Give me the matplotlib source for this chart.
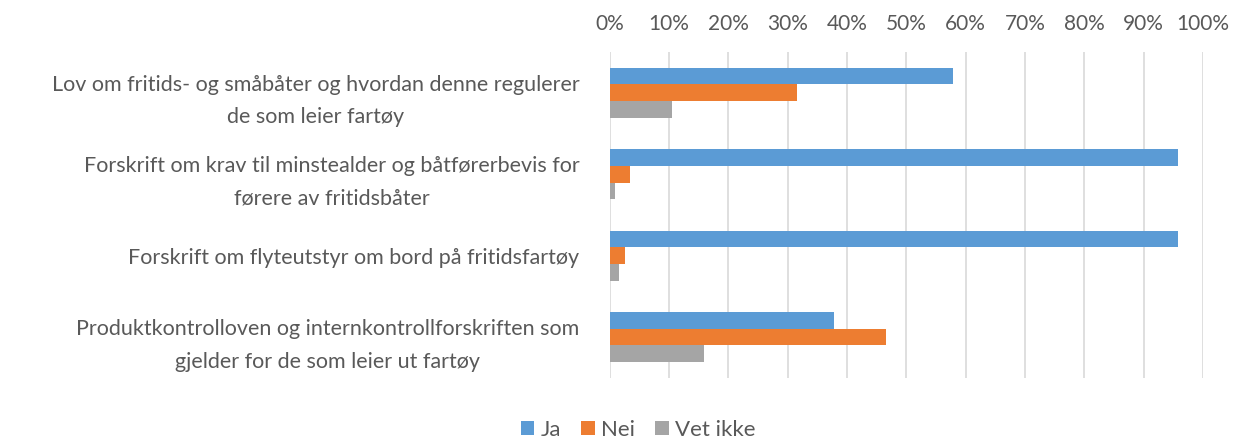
import matplotlib.pyplot as plt
import numpy as np

plt.rcParams['font.family'] = ['Lato', 'DejaVu Sans']

categories = [
    "Lov om fritids- og småbåter og hvordan denne regulerer\nde som leier fartøy",
    "Forskrift om krav til minstealder og båtførerbevis for\nførere av fritidsbåter",
    "Forskrift om flyteutstyr om bord på fritidsfartøy",
    "Produktkontrolloven og internkontrollforskriften som\ngjelder for de som leier ut fartøy",
]
ja = [57.9, 95.8, 95.8, 37.8]
nei = [31.6, 3.4, 2.6, 46.5]
vet_ikke = [10.5, 0.8, 1.6, 15.8]
series_names = ["Ja", "Nei", "Vet ikke"]
colors = ["#5B9BD5", "#ED7D31", "#A5A5A5"]
ticks = list(range(0, 101, 10))

text_col = "#595959"

fig = plt.figure(figsize=(12.37, 4.44), dpi=100)
ax = fig.add_axes([0.493, 0.149, 0.4795, 0.734])

y = np.arange(len(categories))
h = 0.205
for i, (vals, name, c) in enumerate(zip([ja, nei, vet_ikke], series_names, colors)):
    ax.barh(y + (i - 1) * h, vals, height=h, color=c, label=name, zorder=3)

ax.set_xlim(0, 100)
ax.set_ylim(len(categories) - 0.5, -0.5)
ax.set_xticks(ticks)
ax.set_xticklabels([f"{t}%" for t in ticks])
ax.xaxis.tick_top()
ax.set_yticks(y)
ax.set_yticklabels(categories, linespacing=1.8)
ax.tick_params(axis="y", length=0, pad=22, labelsize=15.5, labelcolor=text_col)
for lab in ax.get_yticklabels():
    lab.set_horizontalalignment("right")
    lab.set_multialignment("center")
ax.tick_params(axis="x", length=0, pad=13, labelsize=15, labelcolor=text_col)
ax.grid(axis="x", color="#D9D9D9", linewidth=1.2, zorder=0)
for s in ax.spines.values():
    s.set_visible(False)

fig.legend(loc="lower center", bbox_to_anchor=(0.516, -0.035), ncol=3, frameon=False,
           fontsize=16, handlelength=0.6, handleheight=0.6, handletextpad=0.3,
           columnspacing=0.9, labelcolor=text_col)

fig.savefig("out.png", dpi=100)
